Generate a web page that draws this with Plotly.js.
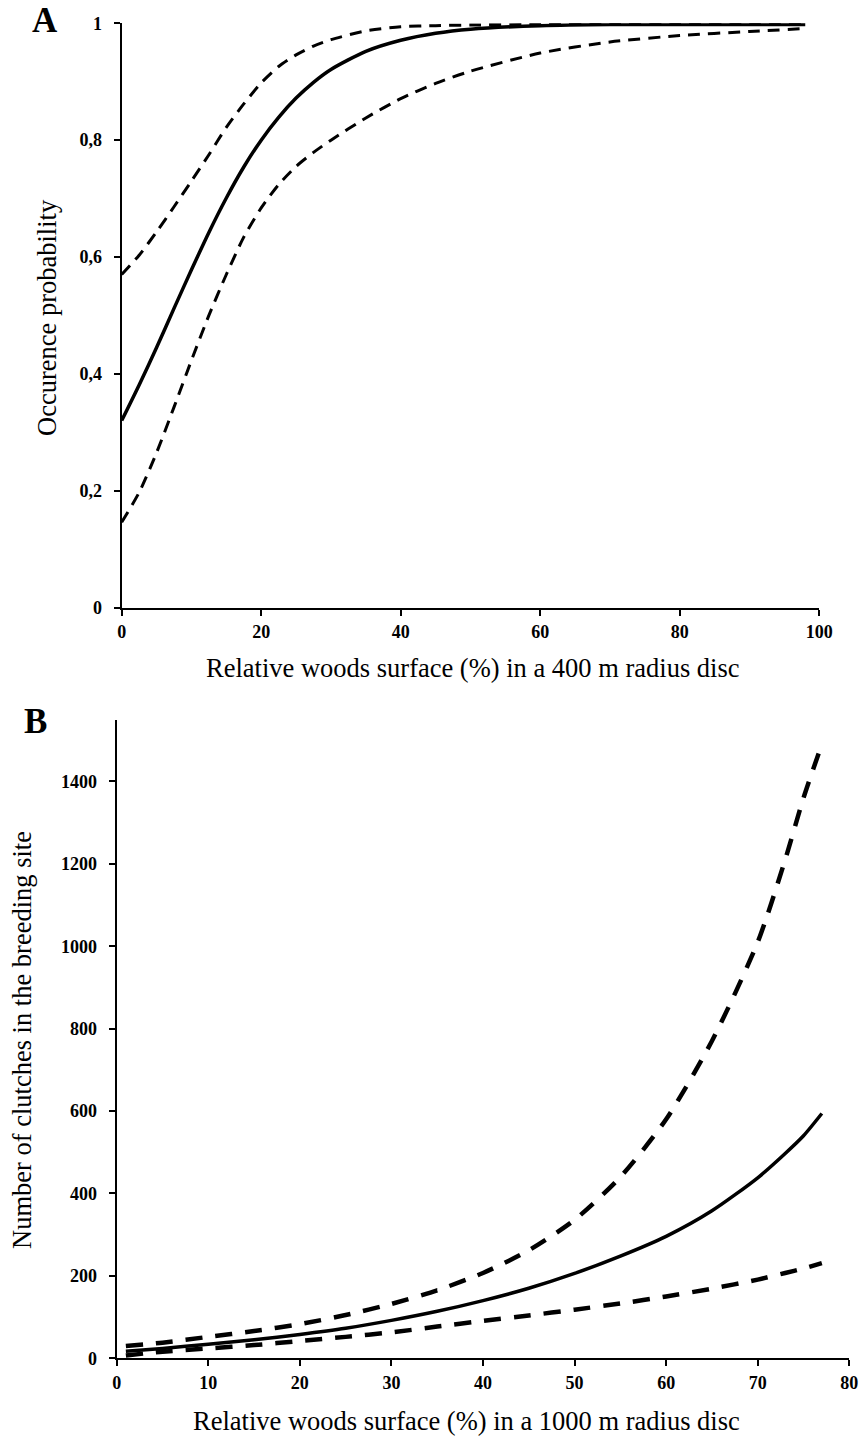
<!DOCTYPE html>
<html>
<head>
<meta charset="utf-8">
<script src="https://cdn.plot.ly/plotly-3.0.1.min.js"></script>
<style>
  html, body { margin: 0; padding: 0; background: #fff; }
  #chart { width: 863px; height: 1442px; }
</style>
</head>
<body>
<div id="chart"></div>
<script>
// Panel A: occurrence probability vs relative woods surface (400 m disc)
const xA = [0, 2.5, 5, 7.5, 10, 12.5, 15, 17.5, 20, 22.5, 25, 27.5, 30, 35, 40, 45, 50, 60, 70, 80, 90, 98];
const probA = [0.32, 0.381, 0.445, 0.512, 0.578, 0.642, 0.701, 0.754, 0.80, 0.839, 0.872, 0.899, 0.921, 0.952, 0.971, 0.983, 0.990, 0.996, 0.998, 0.998, 0.998, 0.998];
const upperA = [0.57, 0.603, 0.643, 0.686, 0.730, 0.775, 0.822, 0.862, 0.898, 0.926, 0.946, 0.961, 0.972, 0.987, 0.994, 0.996, 0.997, 0.998, 0.998, 0.998, 0.998, 0.998];
const lowerA = [0.146, 0.197, 0.265, 0.343, 0.423, 0.50, 0.570, 0.634, 0.684, 0.724, 0.755, 0.779, 0.80, 0.838, 0.871, 0.897, 0.918, 0.949, 0.968, 0.979, 0.986, 0.991];
const yTickValsA = [0, 0.2, 0.4, 0.6, 0.8, 1];
const yTickTextA = ["0", "0,2", "0,4", "0,6", "0,8", "1"];
const xTickValsA = [0, 20, 40, 60, 80, 100];

// Panel B: number of clutches vs relative woods surface (1000 m disc)
const xB = [1, 5, 10, 15, 20, 25, 30, 35, 40, 45, 50, 55, 60, 65, 70, 73, 75, 77];
const clutchB = [17, 24, 34, 45, 58, 73, 92, 114, 140, 170, 206, 248, 296, 358, 438, 497, 540, 594];
const upperB = [30, 38, 52, 66, 83, 105, 132, 165, 207, 262, 336, 440, 580, 770, 1010, 1210, 1360, 1490];
const lowerB = [7, 16, 24, 32, 42, 52, 63, 77, 91, 104, 118, 133, 150, 169, 191, 207, 218, 231];
const yTickValsB = [0, 200, 400, 600, 800, 1000, 1200, 1400];
const xTickValsB = [0, 10, 20, 30, 40, 50, 60, 70, 80];

const SERIF = '"Liberation Serif", "Times New Roman", serif';

function line(x, y, xa, ya, width, dash) {
  return {
    type: 'scatter', mode: 'lines', x: x, y: y, xaxis: xa, yaxis: ya,
    line: { color: '#000', width: width, dash: dash, shape: 'spline', smoothing: 0.7 },
    hoverinfo: 'skip', showlegend: false
  };
}

const traces = [
  line(xA, upperA, 'x', 'y', 3, '12px,8px'),
  line(xA, lowerA, 'x', 'y', 3, '12px,8px'),
  line(xA, probA, 'x', 'y', 3.5, 'solid'),
  line(xB, upperB, 'x2', 'y2', 4.5, '17px,13px'),
  line(xB, lowerB, 'x2', 'y2', 4.5, '17px,13px'),
  line(xB, clutchB, 'x2', 'y2', 3.5, 'solid')
];

const tickFont = { family: SERIF, size: 18, color: '#000', weight: 'bold' };
const axisCommon = {
  showgrid: false, zeroline: false, showline: true, linecolor: '#000', linewidth: 2,
  ticks: 'outside', ticklen: 6, tickwidth: 2, tickcolor: '#000', tickfont: tickFont,
  fixedrange: true
};

const W = 863, H = 1442;
const titleFont = { family: SERIF, size: 26.5, color: '#000' };
const layout = {
  width: W, height: H,
  margin: { l: 0, r: 0, t: 0, b: 0 },
  paper_bgcolor: '#fff', plot_bgcolor: '#fff',
  showlegend: false,
  xaxis: Object.assign({}, axisCommon, {
    domain: [121.7 / W, 819.2 / W], range: [0, 100], anchor: 'y',
    tickvals: xTickValsA, ticklabelstandoff: 1
  }),
  yaxis: Object.assign({}, axisCommon, {
    domain: [(H - 607.5) / H, (H - 23.3) / H], range: [0, 1], anchor: 'x',
    tickvals: yTickValsA, ticktext: yTickTextA, ticklabelstandoff: 8
  }),
  xaxis2: Object.assign({}, axisCommon, {
    domain: [116.7 / W, 849.3 / W], range: [0, 80], anchor: 'y2',
    tickvals: xTickValsB, ticklabelstandoff: 1
  }),
  yaxis2: Object.assign({}, axisCommon, {
    domain: [(H - 1358.3) / H, (H - 720) / H], range: [0, 1549], anchor: 'x2',
    tickvals: yTickValsB, ticklabelstandoff: 8
  }),
  annotations: [
    { text: 'A', x: 45 / W, y: 1 - 21 / H, xref: 'paper', yref: 'paper', showarrow: false,
      xanchor: 'center', yanchor: 'middle', font: { family: SERIF, size: 35, color: '#000', weight: 'bold' } },
    { text: 'B', x: 35 / W, y: 1 - 721 / H, xref: 'paper', yref: 'paper', showarrow: false,
      xanchor: 'center', yanchor: 'middle', font: { family: SERIF, size: 35, color: '#000', weight: 'bold' } },
    { text: 'Relative woods surface (%) in a 400 m radius disc', x: 473 / W, y: 1 - 668 / H,
      xref: 'paper', yref: 'paper', showarrow: false, xanchor: 'center', yanchor: 'middle',
      font: titleFont },
    { text: 'Occurence probability', x: 47 / W, y: 1 - 318 / H, textangle: -90,
      xref: 'paper', yref: 'paper', showarrow: false, xanchor: 'center', yanchor: 'middle',
      font: titleFont },
    { text: 'Relative woods surface (%) in a 1000 m radius disc', x: 466 / W, y: 1 - 1421 / H,
      xref: 'paper', yref: 'paper', showarrow: false, xanchor: 'center', yanchor: 'middle',
      font: titleFont },
    { text: 'Number of clutches in the breeding site', x: 22 / W, y: 1 - 1040 / H, textangle: -90,
      xref: 'paper', yref: 'paper', showarrow: false, xanchor: 'center', yanchor: 'middle',
      font: titleFont }
  ]
};

Plotly.newPlot('chart', traces, layout, { staticPlot: true, displayModeBar: false });
</script>
</body>
</html>
